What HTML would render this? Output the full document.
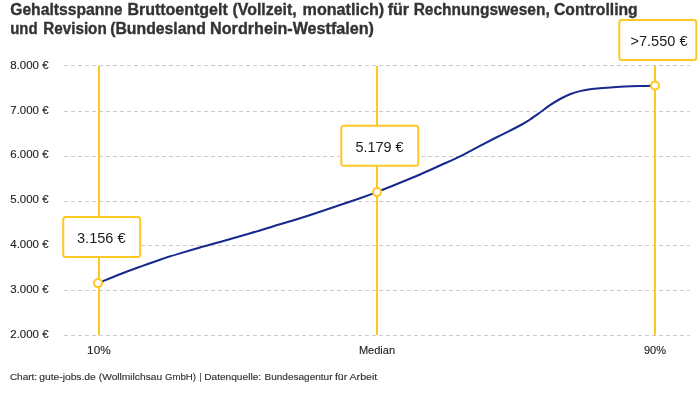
<!DOCTYPE html>
<html lang="de"><head><meta charset="utf-8"><title>Gehaltsspanne</title>
<style>
html,body{margin:0;padding:0;background:#fff;}
body{width:700px;height:400px;overflow:hidden;font-family:"Liberation Sans",sans-serif;}
svg{display:block;}
text{font-family:"Liberation Sans",sans-serif;}
</style></head><body>
<svg width="700" height="400" viewBox="0 0 700 400">
<rect width="700" height="400" fill="#fff"/>
<g font-weight="bold" font-size="16" fill="#333" stroke="#333" stroke-width="0.35"><text x="10.2" y="14.7" textLength="112.4" lengthAdjust="spacingAndGlyphs">Gehaltsspanne</text><text x="127.4" y="14.7" textLength="100.4" lengthAdjust="spacingAndGlyphs">Bruttoentgelt</text><text x="232.5" y="14.7" textLength="64.2" lengthAdjust="spacingAndGlyphs">(Vollzeit,</text><text x="302.6" y="14.7" textLength="81.5" lengthAdjust="spacingAndGlyphs">monatlich)</text><text x="387.7" y="14.7" textLength="21.4" lengthAdjust="spacingAndGlyphs">für</text><text x="413.7" y="14.7" textLength="136.0" lengthAdjust="spacingAndGlyphs">Rechnungswesen,</text><text x="554.0" y="14.7" textLength="83.7" lengthAdjust="spacingAndGlyphs">Controlling</text><text x="10.2" y="33.9" textLength="27.4" lengthAdjust="spacingAndGlyphs">und</text><text x="43.3" y="33.9" textLength="63.4" lengthAdjust="spacingAndGlyphs">Revision</text><text x="110.2" y="33.9" textLength="95.6" lengthAdjust="spacingAndGlyphs">(Bundesland</text><text x="210.1" y="33.9" textLength="163.9" lengthAdjust="spacingAndGlyphs">Nordrhein-Westfalen)</text></g>
<g stroke="#cccccc" stroke-width="1" stroke-dasharray="4 3"><line x1="64" x2="690" y1="65.5" y2="65.5"/><line x1="64" x2="690" y1="111.5" y2="111.5"/><line x1="64" x2="690" y1="156.5" y2="156.5"/><line x1="64" x2="690" y1="201.5" y2="201.5"/><line x1="64" x2="690" y1="245.5" y2="245.5"/><line x1="64" x2="690" y1="290.5" y2="290.5"/><line x1="64" x2="690" y1="335.5" y2="335.5"/></g>
<g font-size="11" fill="#222" stroke="#222" stroke-width="0.12"><text x="10.3" y="68.8" textLength="38.2" lengthAdjust="spacingAndGlyphs">8.000 €</text><text x="10.3" y="113.6" textLength="38.2" lengthAdjust="spacingAndGlyphs">7.000 €</text><text x="10.3" y="158.4" textLength="38.2" lengthAdjust="spacingAndGlyphs">6.000 €</text><text x="10.3" y="203.2" textLength="38.2" lengthAdjust="spacingAndGlyphs">5.000 €</text><text x="10.3" y="248.0" textLength="38.2" lengthAdjust="spacingAndGlyphs">4.000 €</text><text x="10.3" y="292.8" textLength="38.2" lengthAdjust="spacingAndGlyphs">3.000 €</text><text x="10.3" y="337.6" textLength="38.2" lengthAdjust="spacingAndGlyphs">2.000 €</text></g>
<g stroke="#fec822" stroke-width="2">
<line x1="99" x2="99" y1="66" y2="335"/>
<line x1="377" x2="377" y1="66" y2="335"/>
<line x1="655" x2="655" y1="66" y2="335"/>
</g>
<path d="M98.50 283.10 C99.25 282.78 99.42 282.67 103.00 281.20 C106.58 279.73 113.83 276.70 120.00 274.30 C126.17 271.90 133.33 269.23 140.00 266.80 C146.67 264.37 153.33 261.93 160.00 259.70 C166.67 257.47 173.33 255.43 180.00 253.40 C186.67 251.37 193.33 249.40 200.00 247.50 C206.67 245.60 213.33 243.88 220.00 242.00 C226.67 240.12 233.33 238.12 240.00 236.20 C246.67 234.28 253.33 232.48 260.00 230.50 C266.67 228.52 273.33 226.33 280.00 224.30 C286.67 222.27 293.33 220.38 300.00 218.30 C306.67 216.22 313.33 214.02 320.00 211.80 C326.67 209.58 333.33 207.27 340.00 205.00 C346.67 202.73 353.83 200.35 360.00 198.20 C366.17 196.05 373.33 193.47 377.00 192.10 C380.67 190.73 378.17 191.55 382.00 190.00 C385.83 188.45 393.67 185.38 400.00 182.80 C406.33 180.22 413.33 177.38 420.00 174.50 C426.67 171.62 433.33 168.52 440.00 165.50 C446.67 162.48 453.33 159.68 460.00 156.40 C466.67 153.12 473.33 149.27 480.00 145.80 C486.67 142.33 493.33 138.98 500.00 135.60 C506.67 132.22 515.00 128.18 520.00 125.50 C525.00 122.82 526.67 121.67 530.00 119.50 C533.33 117.33 536.67 114.88 540.00 112.50 C543.33 110.12 546.67 107.45 550.00 105.20 C553.33 102.95 556.67 100.83 560.00 99.00 C563.33 97.17 566.67 95.52 570.00 94.20 C573.33 92.88 576.67 91.92 580.00 91.10 C583.33 90.28 586.67 89.78 590.00 89.30 C593.33 88.82 596.67 88.50 600.00 88.20 C603.33 87.90 606.67 87.73 610.00 87.50 C613.33 87.27 615.00 87.05 620.00 86.80 C625.00 86.55 634.17 86.18 640.00 86.00 C645.83 85.82 652.50 85.75 655.00 85.70" fill="none" stroke="#16288e" stroke-width="2" stroke-linecap="round" stroke-linejoin="round"/>
<g fill="#fff" stroke="#fec822" stroke-width="2">
<circle cx="98" cy="283.1" r="4"/>
<circle cx="377" cy="192.1" r="4"/>
<circle cx="655" cy="85.6" r="4"/>
<rect x="63.2" y="217" width="77" height="40" rx="2.5"/>
<rect x="341.3" y="125.8" width="77" height="40" rx="2.5"/>
<rect x="619.3" y="20" width="77" height="40" rx="2.5"/>
</g>
<g font-size="15.2" fill="#1c1c1c" lengthAdjust="spacingAndGlyphs">
<text x="77" y="242.7" textLength="48.6" lengthAdjust="spacingAndGlyphs">3.156 €</text>
<text x="355.4" y="151.7" textLength="48.2" lengthAdjust="spacingAndGlyphs">5.179 €</text>
<text x="630.5" y="45.6" textLength="57" lengthAdjust="spacingAndGlyphs">&gt;7.550 €</text>
</g>
<g font-size="11" fill="#222" stroke="#222" stroke-width="0.12" text-anchor="middle">
<text x="98.9" y="353.5" textLength="23.6" lengthAdjust="spacingAndGlyphs">10%</text>
<text x="377" y="353.6" textLength="36.2" lengthAdjust="spacingAndGlyphs">Median</text>
<text x="655" y="353.5">90%</text>
</g>
<g font-size="9.8" fill="#333" stroke="#333" stroke-width="0.15"><text x="9.9" y="380.0" textLength="27.2" lengthAdjust="spacingAndGlyphs">Chart:</text><text x="39.2" y="380.0" textLength="56.6" lengthAdjust="spacingAndGlyphs">gute-jobs.de</text><text x="98.8" y="380.0" textLength="63.3" lengthAdjust="spacingAndGlyphs">(Wollmilchsau</text><text x="164.9" y="380.0" textLength="31.2" lengthAdjust="spacingAndGlyphs">GmbH)</text><text x="199.5" y="380.0" textLength="2.1" lengthAdjust="spacingAndGlyphs">|</text><text x="204.2" y="380.0" textLength="56.9" lengthAdjust="spacingAndGlyphs">Datenquelle:</text><text x="264.5" y="380.0" textLength="68.0" lengthAdjust="spacingAndGlyphs">Bundesagentur</text><text x="334.9" y="380.0" textLength="12.4" lengthAdjust="spacingAndGlyphs">für</text><text x="349.5" y="380.0" textLength="27.8" lengthAdjust="spacingAndGlyphs">Arbeit</text></g>
</svg>
</body></html>
